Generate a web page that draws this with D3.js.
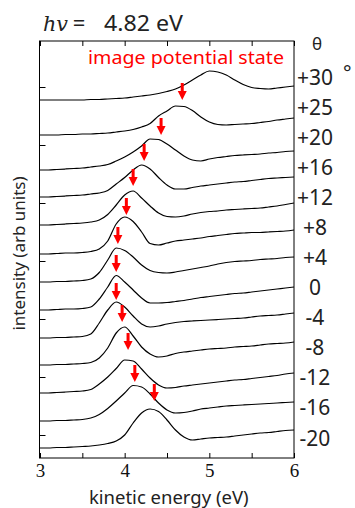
<!DOCTYPE html>
<html><head><meta charset="utf-8">
<script src="https://cdn.jsdelivr.net/npm/d3@7"></script>
<style>
html,body{margin:0;padding:0;background:#fff;}
svg{display:block;}
</style></head>
<body>
<svg id="chart" width="355" height="508"></svg>
<script>
// ---------- data ----------
const energies = [3.0,3.1,3.2,3.3,3.4,3.5,3.6,3.7,3.8,3.9,4.0,4.1,4.2,4.3,4.4,4.5,4.6,4.7,4.8,4.9,5.0,5.1,5.2,5.3,5.4,5.5,5.6,5.7,5.8,5.9,6.0];
const angles = ["+30","+25","+20","+16","+12","+8","+4","0","-4","-8","-12","-16","-20"];

// offset spectra (arb. units, already stacked)
const s_p30 = [35.8,35.8,35.8,35.8,35.8,35.8,35.85,35.85,35.9,35.95,36.0,36.1,36.2,36.3,36.45,36.65,36.9,37.3,37.8,38.3,38.7,38.6,38.3,37.8,37.35,37.05,36.95,36.9,37.0,37.1,37.2];
const s_p25 = [32.3,32.3,32.3,32.35,32.35,32.4,32.4,32.45,32.5,32.6,32.7,32.85,33.1,33.45,34.2,34.7,35.2,35.15,34.75,34.1,33.6,33.35,33.3,33.35,33.4,33.45,33.55,33.65,33.8,33.9,34.0];
const s_p20 = [28.8,28.8,28.85,28.9,28.95,29.0,29.1,29.2,29.35,29.7,30.1,30.6,31.2,31.9,31.85,31.4,30.8,30.2,29.8,29.7,29.9,30.05,30.15,30.25,30.3,30.35,30.4,30.5,30.55,30.65,30.7];
const s_p16 = [26.1,26.1,26.15,26.2,26.25,26.3,26.4,26.5,26.75,27.4,28.05,28.8,29.3,28.9,28.05,27.3,26.9,26.9,27.05,27.2,27.3,27.4,27.5,27.6,27.65,27.75,27.85,27.95,28.0,28.05,28.1];
const s_p12 = [23.3,23.3,23.35,23.4,23.45,23.5,23.6,23.8,24.35,25.3,26.3,26.7,26.0,25.2,24.5,24.15,24.1,24.2,24.4,24.55,24.65,24.7,24.8,24.85,24.9,24.95,25.0,25.1,25.2,25.35,25.5];
const s_p8  = [20.4,20.4,20.45,20.5,20.5,20.55,20.65,20.9,21.7,23.4,24.1,23.65,22.6,21.45,21.3,21.5,21.7,21.8,21.9,22.0,22.15,22.25,22.35,22.45,22.5,22.55,22.55,22.6,22.65,22.7,22.8];
const s_p4  = [17.6,17.6,17.65,17.65,17.7,17.75,17.9,18.55,19.8,21.0,20.75,20.1,19.3,18.75,18.55,18.5,18.6,18.75,18.9,19.05,19.2,19.4,19.55,19.65,19.7,19.75,19.85,19.9,19.95,20.05,20.1];
const s_0   = [14.8,14.8,14.85,14.9,14.9,14.95,15.1,15.9,17.1,18.25,17.6,16.8,16.0,15.5,15.5,15.55,15.65,15.75,15.9,16.05,16.15,16.25,16.35,16.45,16.5,16.6,16.7,16.8,16.9,17.0,17.1];
const s_m4  = [12.0,12.0,12.05,12.05,12.1,12.15,12.4,13.5,14.8,15.6,15.1,14.2,13.4,13.1,13.2,13.4,13.55,13.65,13.7,13.75,13.8,13.85,13.9,13.95,14.0,14.1,14.2,14.25,14.3,14.4,14.5];
const s_m8  = [9.3,9.3,9.35,9.35,9.4,9.45,9.55,10.0,11.0,12.5,13.1,12.2,11.1,10.4,10.1,10.2,10.45,10.6,10.7,10.8,10.9,10.95,11.0,11.1,11.15,11.2,11.3,11.4,11.45,11.5,11.6];
const s_m12 = [6.5,6.5,6.55,6.6,6.65,6.7,6.85,7.4,8.1,8.95,9.8,9.7,8.9,8.0,7.3,7.0,7.05,7.2,7.3,7.4,7.5,7.6,7.7,7.8,7.85,7.95,8.05,8.15,8.25,8.4,8.5];
const s_m16 = [3.7,3.7,3.75,3.75,3.8,3.85,4.0,4.35,4.95,5.7,6.5,7.25,7.1,6.4,5.5,4.8,4.5,4.55,4.7,4.9,5.0,5.1,5.2,5.25,5.3,5.35,5.4,5.45,5.5,5.55,5.6];
const s_m20 = [1.0,1.0,1.05,1.05,1.1,1.15,1.2,1.3,1.45,1.7,2.3,3.5,4.5,4.9,4.65,3.8,2.8,2.1,1.8,1.9,2.0,2.05,2.1,2.2,2.3,2.4,2.5,2.55,2.65,2.75,2.8];
const spectra = [s_p30,s_p25,s_p20,s_p16,s_p12,s_p8,s_p4,s_0,s_m4,s_m8,s_m12,s_m16,s_m20];

// image potential state markers (one per spectrum from +25 to -20)
const arrowEnergy = [4.68,4.43,4.23,4.10,4.02,3.92,3.90,3.90,3.97,4.04,4.12,4.35];
const arrowLevel  = [35.8,32.3,29.7,27.2,24.3,21.4,18.6,15.8,13.6,10.8,7.6,5.7];

const xTicks = [3,3.5,4,4.5,5,5.5,6];
const xTickLabels = ["3","","4","","5","","6"];
const yTicks = [2.3,8.1,13.9,19.7,25.5,31.3,37.1];

// ---------- layout ----------
const svg = d3.select("#chart");
const L = 39.5, R = 294, T = 41, B = 458;
const x = d3.scaleLinear().domain([3,6]).range([L+0.5,R]);
const y = d3.scaleLinear().domain([0,41.7]).range([B,T]);
const sans = "'Noto Sans', 'Open Sans', sans-serif";
const ink = "#222";

// curves
const line = d3.line().x((d,i)=>x(energies[i])).y(d=>y(d)).curve(d3.curveMonotoneX);
svg.append("g").selectAll("path").data(spectra).join("path")
  .attr("d", line).attr("fill","none").attr("stroke","#000").attr("stroke-width",1.2);

// axes (ticks inward)
const gB = svg.append("g").attr("transform",`translate(0,${B})`)
  .call(d3.axisBottom(x).tickValues(xTicks).tickSizeInner(-5).tickSizeOuter(0).tickPadding(6)
    .tickFormat((d,i)=>xTickLabels[i]));
const gT = svg.append("g").attr("transform",`translate(0,${T})`)
  .call(d3.axisTop(x).tickValues(xTicks).tickSizeInner(-5).tickSizeOuter(0).tickFormat(""));
const gL = svg.append("g").attr("transform",`translate(${L},0)`)
  .call(d3.axisLeft(y).tickValues(yTicks).tickSizeInner(-6).tickSizeOuter(0).tickFormat(""));
[gB,gT,gL].forEach(g=>{ g.select(".domain").remove(); g.selectAll("line").attr("stroke","#000"); });
gB.selectAll("text").attr("font-family","'Liberation Serif', 'Times New Roman', serif")
  .attr("font-size",19).attr("fill","#111");

// frame
svg.append("rect").attr("x",L).attr("y",T).attr("width",R-L).attr("height",B-T)
  .attr("fill","none").attr("stroke","#000").attr("stroke-width",1);

// arrows
const ag = svg.append("g").attr("fill","#ff0000");
arrowEnergy.forEach((e,i)=>{
  const ax = x(e), ay = y(arrowLevel[i]);
  ag.append("rect").attr("x",ax-1.5).attr("y",ay-17).attr("width",3).attr("height",9);
  ag.append("path").attr("d",`M${ax-4.5},${ay-9}L${ax+4.5},${ay-9}L${ax},${ay}Z`);
});

// angle labels
const ly = d3.scalePoint().domain(angles).range([77,438]);
svg.append("g").selectAll("text").data(angles).join("text")
  .attr("x",315).attr("y",d=>ly(d)+7.5).attr("text-anchor","middle")
  .attr("font-family",sans).attr("font-size",21).attr("fill",ink).text(d=>d);
svg.append("text").attr("x",343).attr("y",80).attr("font-family",sans).attr("font-size",20)
  .attr("fill",ink).text("°");
svg.append("text").attr("x",317).attr("y",50).attr("text-anchor","middle")
  .attr("font-family",sans).attr("font-size",17).attr("fill",ink).text("θ");

// title
svg.append("text").attr("x",43).attr("y",31).attr("fill",ink)
  .attr("font-family","'DejaVu Serif', serif").attr("font-style","italic")
  .attr("font-size",21).attr("textLength",25).attr("lengthAdjust","spacingAndGlyphs").text("hv");
svg.append("text").attr("x",79).attr("y",31).attr("fill",ink).attr("text-anchor","middle")
  .attr("font-family",sans).attr("font-size",22).text("=");
svg.append("text").attr("x",104).attr("y",31).attr("fill",ink)
  .attr("font-family",sans).attr("font-size",22).attr("textLength",79).attr("lengthAdjust","spacingAndGlyphs")
  .text("4.82 eV");

svg.append("text").attr("x",88).attr("y",64).attr("font-family",sans).attr("font-size",18)
  .attr("fill","#ff0000").attr("textLength",196).attr("lengthAdjust","spacingAndGlyphs")
  .text("image potential state");

// axis titles
svg.append("text").attr("x",(L+R)/2+2).attr("y",504).attr("text-anchor","middle")
  .attr("font-family",sans).attr("font-size",18.5).attr("fill",ink).text("kinetic energy (eV)");
svg.append("text").attr("transform",`translate(25,${(T+B)/2+4}) rotate(-90)`).attr("text-anchor","middle")
  .attr("font-family",sans).attr("font-size",17).attr("fill",ink).text("intensity (arb units)");
</script>
</body></html>
